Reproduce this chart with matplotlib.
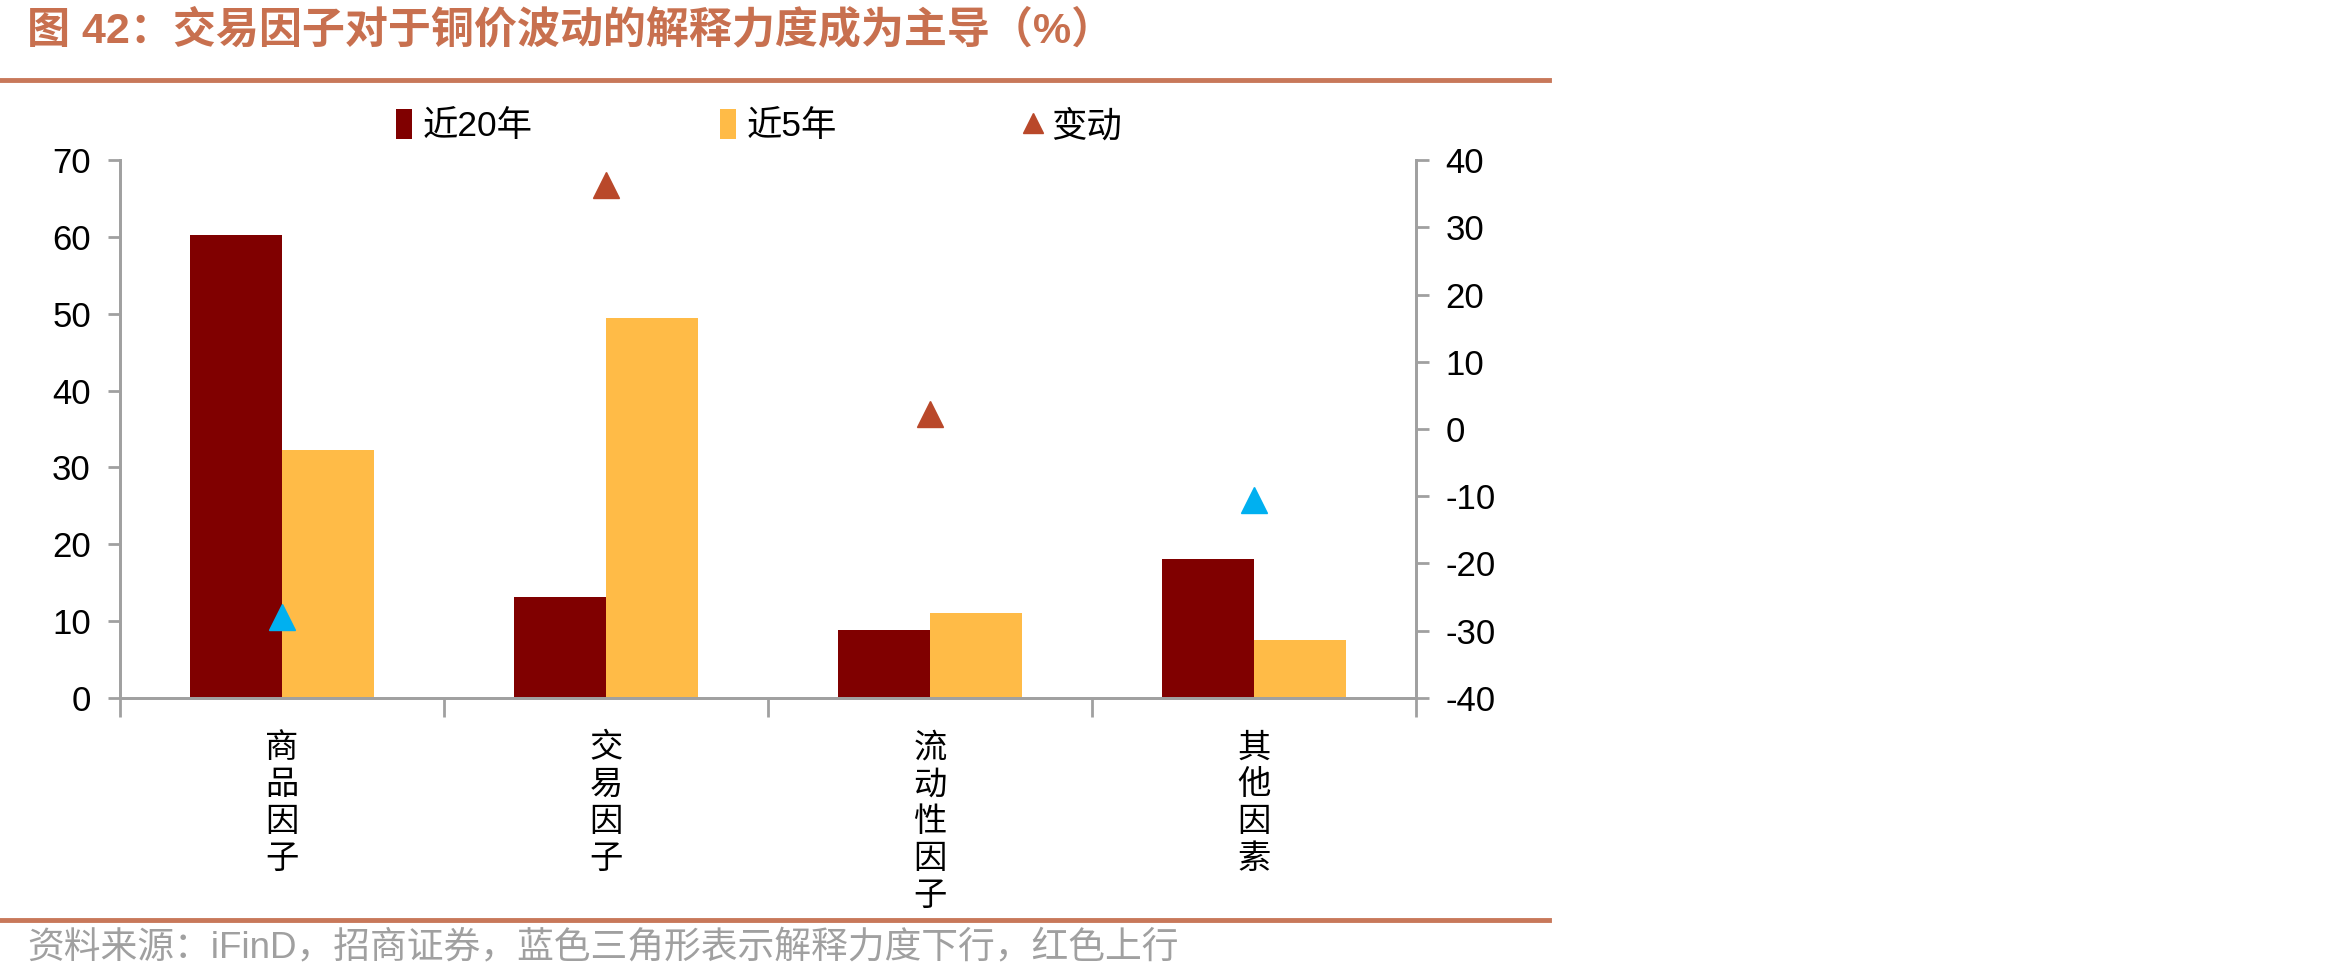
import numpy as np
import matplotlib
matplotlib.use("Agg")
import matplotlib.pyplot as plt
from matplotlib.lines import Line2D

plt.rcParams['font.family'] = ['Liberation Sans', 'Noto Sans CJK SC']
plt.rcParams['axes.unicode_minus'] = False

# 数据
categories = ['商品因子', '交易因子', '流动性因子', '其他因素']
near20 = [60.2, 13.2, 8.8, 18.1]
near5 = [32.3, 49.5, 11.0, 7.5]
change = [-27.9, 36.3, 2.2, -10.6]

c20 = '#800000'
c5 = '#FFBB47'
c_up = '#B9482A'
c_down = '#00B0F0'
c_line = '#C8785A'
c_axis = '#A0A0A0'

fig = plt.figure(figsize=(23.5, 9.8), dpi=100)
ax = fig.add_axes([0.0511, 0.2878, 0.5515, 0.5489])
ax2 = ax.twinx()

x = np.arange(len(categories))
w = 0.285
b1 = ax.bar(x - w / 2, near20, w, color=c20, label='近20年')
b2 = ax.bar(x + w / 2, near5, w, color=c5, label='近5年')

for xi, v in zip(x, change):
    ax2.plot(xi, v, marker='^', markersize=19, color=c_up if v > 0 else c_down,
             linestyle='none', zorder=5)

ax.set_xlim(-0.5, len(categories) - 0.5)
ax.set_ylim(0, 70)
ax.set_yticks(np.arange(0, 71, 10))
ax2.set_ylim(-40, 40)
ax2.set_yticks(np.arange(-40, 41, 10))

ax.set_xticks(np.arange(-0.5, len(categories), 1))
ax.set_xticklabels([])
for xi, name in zip(x, categories):
    ax.text(xi, -4.6, '\n'.join(name), ha='center', va='top', fontsize=24,
            linespacing=1.25, transform=ax.transData)

for a in (ax, ax2):
    for s in a.spines.values():
        s.set_color(c_axis)
        s.set_linewidth(2)
    a.spines['top'].set_visible(False)
    a.tick_params(colors=c_axis, width=2, length=9, labelsize=25, labelcolor='black')
ax.tick_params(axis='x', length=14)
ax.tick_params(axis='y', pad=12)
ax2.tick_params(axis='y', pad=12)

handles = [b1, b2, Line2D([], [], marker='^', color=c_up, linestyle='none', markersize=14)]
fig.legend(handles, ['近20年', '近5年', '变动'], loc='center', bbox_to_anchor=(0.323, 0.871),
           ncol=3, frameon=False, fontsize=25.5, handlelength=0.45, handleheight=0.9,
           handletextpad=0.3, columnspacing=5.3)

fig.text(0.0115, 0.969, '图 42：交易因子对于铜价波动的解释力度成为主导（%）', fontsize=31,
         fontweight='bold', color='#C8704F', ha='left', va='center')
fig.text(0.0115, 0.0327, '资料来源：iFinD，招商证券，蓝色三角形表示解释力度下行，红色上行',
         fontsize=26.5, color='#A0A0A0', ha='left', va='center')

fig.add_artist(Line2D([0, 0.659], [0.918, 0.918], color=c_line, linewidth=3.5,
                      transform=fig.transFigure))
fig.add_artist(Line2D([0, 0.659], [0.0612, 0.0612], color=c_line, linewidth=3.5,
                      transform=fig.transFigure))

fig.savefig('out.png', dpi=100, facecolor='white')
